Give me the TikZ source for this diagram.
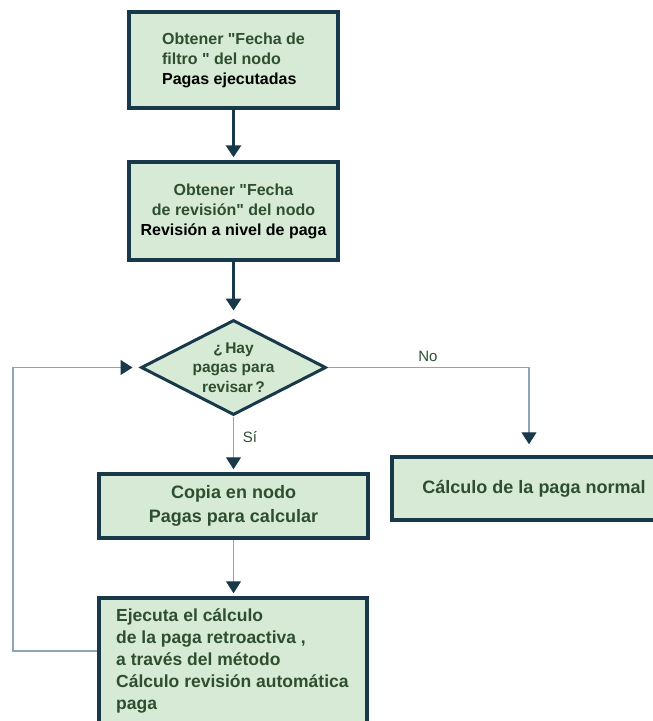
\documentclass[tikz,border=0pt]{standalone}
\usepackage{fontspec}
\setmainfont{Liberation Sans}
\newfontfamily\qfont{Liberation Sans}
\newcommand\dq{{\qfont\symbol{34}}}
\usetikzlibrary{arrows.meta,shapes.geometric}
\definecolor{boxfill}{HTML}{D6EAD5}
\definecolor{boxline}{HTML}{18394A}
\definecolor{txtgreen}{HTML}{2E4E30}
\definecolor{thinline}{HTML}{8CA5B5}
\tikzset{
  procbox/.style={draw=boxline, fill=boxfill, line width=3.5pt, rectangle, inner sep=0pt, text=txtgreen},
  decbox/.style={draw=boxline, fill=boxfill, line width=3pt, diamond, inner sep=0pt},
  thickflow/.style={draw=boxline, line width=3pt, -{Triangle[length=12pt,width=15pt]}},
  thinflow/.style={draw=thinline, line width=1.2pt, -{Triangle[length=12pt,width=15pt,color=boxline]}},
  flowlabel/.style={text=txtgreen, font=\fontsize{15}{18}\selectfont, inner sep=0pt},
  dtext/.style={text=txtgreen, align=center, inner sep=0pt, font=\bfseries\fontsize{15.5}{19.5}\selectfont},
}
\begin{document}
\begin{tikzpicture}[x=1pt,y=-1pt]
\useasboundingbox (0,0) rectangle (653,721);
\node[procbox, minimum width=209pt, minimum height=96pt, align=left,
      font=\bfseries\fontsize{16}{20}\selectfont] (n1) at (233.5,60)
  {Obtener \dq Fecha de\\filtro \dq\ del nodo\\\textcolor{black}{Pagas ejecutadas}};
\node[procbox, minimum width=209pt, minimum height=98pt, align=center,
      font=\bfseries\fontsize{16}{20}\selectfont] (n2) at (233.5,211)
  {Obtener \dq Fecha\\de revisión\dq\ del nodo\\\textcolor{black}{Revisión a nivel de paga}};
\node[decbox, minimum width=185pt, minimum height=95pt,
      label={[dtext]center:{¿\,Hay\\pagas para\\revisar\,?}}] (dia) at (233.5,367.5) {};
\node[procbox, minimum width=284pt, minimum height=63pt,
      font=\bfseries\fontsize{18}{22}\selectfont] (n3) at (534,488.5)
  {Cálculo de la paga normal};
\node[procbox, minimum width=269pt, minimum height=64pt, align=center,
      font=\bfseries\fontsize{18}{24}\selectfont] (n4) at (233.5,506)
  {Copia en nodo\\Pagas para calcular};
\node[procbox, minimum width=268pt, minimum height=126pt] (n5) at (233,661) {};
\node[text=txtgreen, align=left, anchor=west, inner sep=0pt,
      font=\bfseries\fontsize{17.5}{22}\selectfont] (n5text) at (116,661)
  {Ejecuta el cálculo\\de la paga retroactiva ,\\a través del método\\Cálculo revisión automática\\paga};
\coordinate (noturn) at (529,367.5);
\coordinate (loopx) at (13,651);
\draw[thickflow, shorten >=3pt] (n1) -- (n2);
\draw[thickflow, shorten >=8pt] (n2) -- (dia);
\draw[thinflow, shorten >=11pt] (dia.east) -- (noturn) -- (noturn |- n3.north);
\draw[thinflow, shorten >=3pt] (dia.south) -- (n4.north);
\draw[thinflow, shorten >=3pt] (n4.south) -- (n5.north -| n4.south);
\draw[thinflow, shorten >=7pt] ([yshift=10pt]n5.west) -- (loopx) |- (dia.west);
\node[flowlabel] (lno) at (428,356) {No};
\node[flowlabel] (lsi) at (250,437) {Sí};
\end{tikzpicture}
\end{document}
